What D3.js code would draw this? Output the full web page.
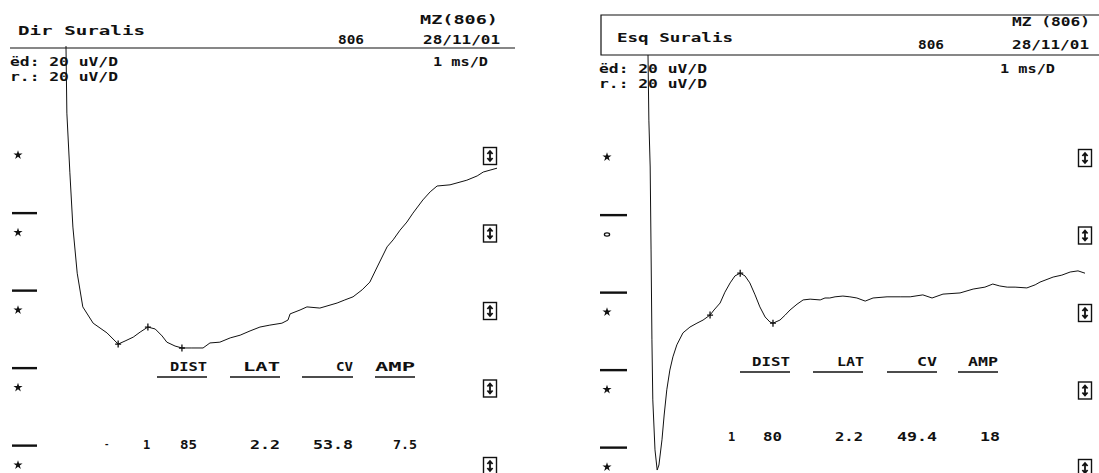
<!DOCTYPE html>
<html>
<head>
<meta charset="utf-8">
<script src="https://cdn.jsdelivr.net/npm/d3@7"></script>
<style>
  html, body { margin: 0; padding: 0; background: #fff; }
  svg { display: block; }
  text { font-family: "DejaVu Sans Mono", monospace; font-weight: bold; fill: #111; }
</style>
</head>
<body>
<svg id="chart" width="1099" height="473"></svg>
<script>
// ---------------- DATA ----------------
// Left trace (Dir Suralis): time in ms, amplitude in uV (20 uV/D, 1 ms/D)
const leftMs = [0, 0.02, 0.09, 0.16, 0.26, 0.39, 0.63, 0.95, 1.21, 1.37, 1.56, 1.72, 1.90, 2.07, 2.23, 2.34, 2.53, 2.69, 2.92, 3.18, 3.34, 3.57, 3.81, 4.04, 4.27, 4.50, 4.73, 5.01, 5.15, 5.20, 5.43, 5.59, 5.89, 6.29, 6.47, 6.66, 6.87, 7.05, 7.22, 7.45, 7.59, 7.75, 7.91, 8.05, 8.28, 8.45, 8.61, 8.91, 9.30, 9.54, 9.68, 9.84, 10.0];
const leftUv = [67.6, 50.8, 35.4, 21.4, 9.5, 0.8, -3.4, -5.9, -8.8, -8.0, -7.0, -5.7, -4.4, -4.9, -6.7, -8.3, -9.3, -9.8, -9.8, -9.8, -8.5, -8.3, -7.2, -6.5, -5.4, -4.4, -3.9, -3.4, -2.6, -1.0, 0, 0.8, 0.5, 1.8, 2.6, 3.4, 5.2, 7.2, 11.1, 16.3, 18.1, 20.6, 22.7, 25.0, 28.4, 30.5, 32.0, 32.3, 33.5, 34.6, 35.6, 36.1, 36.6];
const leftCursorMs = [1.21, 1.90, 2.69];
const leftCursorUv = [-8.8, -4.4, -9.8];

// Right trace (Esq Suralis)
const rightMs = [0, 0.02, 0.05, 0.07, 0.09, 0.11, 0.16, 0.21, 0.25, 0.32, 0.37, 0.43, 0.50, 0.57, 0.66, 0.80, 0.96, 1.12, 1.26, 1.42, 1.51, 1.65, 1.76, 1.88, 1.99, 2.11, 2.22, 2.33, 2.45, 2.56, 2.68, 2.79, 2.86, 3.02, 3.14, 3.25, 3.41, 3.55, 3.71, 3.94, 4.05, 4.16, 4.28, 4.46, 4.62, 4.78, 4.97, 5.15, 5.47, 5.77, 6.00, 6.29, 6.50, 6.75, 7.14, 7.44, 7.71, 7.89, 8.05, 8.22, 8.40, 8.67, 8.86, 8.97, 9.27, 9.47, 9.66, 9.84, 10.0];
const rightUv = [65.8, 49.0, 36.9, 15.5, -7.7, -23.2, -36.1, -41.3, -40.0, -33.5, -27.1, -20.6, -15.5, -12.1, -9.0, -5.9, -4.4, -3.4, -2.6, -1.3, 0, 1.8, 4.6, 7.0, 8.8, 9.5, 8.8, 7.0, 3.9, 0.8, -1.8, -3.1, -3.4, -2.6, -1.3, 0, 1.5, 2.6, 2.8, 2.6, 3.1, 3.1, 3.4, 3.6, 3.4, 3.1, 2.3, 3.1, 3.4, 3.4, 3.4, 3.9, 3.1, 4.1, 4.4, 5.4, 5.9, 6.7, 6.2, 5.9, 5.9, 5.7, 6.5, 7.2, 8.5, 9.0, 9.8, 10.1, 9.5];
const rightCursorMs = [1.42, 2.11, 2.86];
const rightCursorUv = [-1.3, 9.5, -3.4];

// Texts
const leftTitle = "Dir Suralis";
const rightTitle = "Esq Suralis";
const leftOp = "MZ(806)";
const rightOp = "MZ (806)";
const patientId = "806";
const dateLabel = "28/11/01";
const gainLines = ["ëd: 20 uV/D", "r.: 20 uV/D"];
const sweepLabel = "1 ms/D";
const tableHeaders = ["DIST", "LAT", "CV", "AMP"];
const leftValues = ["85", "2.2", "53.8", "7.5"];
const rightValues = ["80", "2.2", "49.4", "18"];
const channelLevels = [40, 20, 0, -20, -40];   // uV levels of channel markers
const dashLevels = [25, 5, -15, -35];          // uV levels of separator dashes

// ---------------- DRAW ----------------
const svg = d3.select("#chart");

function txt(g, s, x, y, opts = {}) {
  const t = g.append("text").attr("x", x).attr("y", y).text(s)
    .attr("font-size", opts.size || 12);
  if (opts.len) t.attr("textLength", opts.len).attr("lengthAdjust", "spacingAndGlyphs");
  return t;
}

function drawBoxIcon(g, cx, cy) {
  g.append("rect").attr("x", cx - 6.5).attr("y", cy - 8.5).attr("width", 13).attr("height", 17)
    .attr("fill", "none").attr("stroke", "#111").attr("stroke-width", 1.4);
  g.append("path")
    .attr("d", `M${cx},${cy-4.5} L${cx},${cy+4.5} M${cx-2.6},${cy-2} L${cx},${cy-5} L${cx+2.6},${cy-2} M${cx-2.6},${cy+2} L${cx},${cy+5} L${cx+2.6},${cy+2}`)
    .attr("fill", "none").attr("stroke", "#111").attr("stroke-width", 1.8);
}

function panel(cfg) {
  const g = svg.append("g");
  const x = d3.scaleLinear().domain([0, 10]).range([cfg.x0, cfg.x1]);
  const y = d3.scaleLinear().domain([40, -40]).range([cfg.yTop, cfg.yBot]);

  // header
  if (cfg.box) {
    g.append("path").attr("d", `M1099,${cfg.boxTop} L${cfg.boxLeft},${cfg.boxTop} L${cfg.boxLeft},${cfg.headerY} L1099,${cfg.headerY}`)
      .attr("fill", "none").attr("stroke", "#111").attr("stroke-width", 1.2);
  } else {
    g.append("line").attr("x1", cfg.lineX0).attr("x2", cfg.lineX1)
      .attr("y1", cfg.headerY).attr("y2", cfg.headerY)
      .attr("stroke", "#111").attr("stroke-width", 1.2);
  }
  txt(g, cfg.title, cfg.titleX, cfg.titleY, { len: cfg.titleLen, size: 12 });
  txt(g, cfg.op, cfg.opX, cfg.opY, { len: 78 });
  txt(g, patientId, cfg.idX, cfg.dateY, { len: 26 });
  txt(g, dateLabel, cfg.dateX, cfg.dateY, { len: 77 });
  txt(g, gainLines[0], cfg.gainX, cfg.gainY, { len: 108 });
  txt(g, gainLines[1], cfg.gainX, cfg.gainY + 15, { len: 108 });
  txt(g, sweepLabel, cfg.sweepX, cfg.gainY, { len: 55 });

  // channel markers
  channelLevels.forEach((v, i) => {
    const cy = y(v) + cfg.markOff;
    if (cfg.circleIdx === i) {
      g.append("ellipse").attr("cx", cfg.starX).attr("cy", cy).attr("rx", 2.6).attr("ry", 1.6)
        .attr("fill", "none").attr("stroke", "#111").attr("stroke-width", 1.3);
    } else {
      g.append("path").attr("transform", `translate(${cfg.starX},${cy})`)
        .attr("d", d3.symbol(d3.symbolStar).size(26)()).attr("fill", "#111");
    }
    drawBoxIcon(g, cfg.boxX, cy + 1);
  });
  dashLevels.forEach(v => {
    g.append("line").attr("x1", cfg.dashX0).attr("x2", cfg.dashX1)
      .attr("y1", y(v) + cfg.dashOff).attr("y2", y(v) + cfg.dashOff)
      .attr("stroke", "#111").attr("stroke-width", 2.4);
  });

  // trace
  const line = d3.line().x(d => x(d[0])).y(d => y(d[1])).curve(d3.curveLinear);
  const pts = cfg.ms.map((m, i) => [m, cfg.uv[i]]);
  g.append("path").attr("d", line([[0, cfg.traceTopUv], ...pts]))
    .attr("fill", "none").attr("stroke", "#111").attr("stroke-width", 1.0);

  // cursors
  cfg.cms.forEach((m, i) => {
    const cx = x(m), cy = y(cfg.cuv[i]);
    g.append("path").attr("d", `M${cx-3},${cy} L${cx+3},${cy} M${cx},${cy-3.5} L${cx},${cy+3.5}`)
      .attr("stroke", "#111").attr("stroke-width", 1.3);
  });

  // table
  tableHeaders.forEach((h, i) => {
    const c = cfg.cols[i];
    txt(g, h, c.hx, cfg.headY, { len: c.hl });
    g.append("line").attr("x1", c.ux0).attr("x2", c.ux1)
      .attr("y1", cfg.headY + 6).attr("y2", cfg.headY + 6)
      .attr("stroke", "#111").attr("stroke-width", 1.3);
    txt(g, cfg.values[i], c.vx, cfg.valY, { len: c.vl });
  });
  txt(g, "1", cfg.oneX, cfg.valY);
  if (cfg.dashMark) txt(g, "-", cfg.dashMark, cfg.valY - 2, { size: 9 });
}

panel({
  x0: 66, x1: 497, yTop: 155, yBot: 465,
  ms: leftMs, uv: leftUv, traceTopUv: (310 - 48) / 3.875 + 0.5,
  cms: leftCursorMs, cuv: leftCursorUv,
  box: false, headerY: 48, lineX0: 10, lineX1: 515,
  title: leftTitle, titleX: 18, titleY: 35, titleLen: 127,
  op: leftOp, opX: 420, opY: 24,
  idX: 338, dateX: 423, dateY: 44,
  gainX: 10, gainY: 66, sweepX: 433,
  starX: 18, markOff: 0, circleIdx: -1, boxX: 490,
  dashX0: 12, dashX1: 37, dashOff: 0,
  headY: 371, valY: 449, oneX: 143, dashMark: 104,
  values: leftValues,
  cols: [
    { hx: 170, hl: 37, ux0: 157, ux1: 207, vx: 180, vl: 17 },
    { hx: 243, hl: 37, ux0: 230, ux1: 280, vx: 250, vl: 30 },
    { hx: 336, hl: 17, ux0: 302, ux1: 353, vx: 313, vl: 40 },
    { hx: 375, hl: 40, ux0: 375, ux1: 415, vx: 393, vl: 24 }
  ]
});

panel({
  x0: 648, x1: 1085, yTop: 155, yBot: 465,
  ms: rightMs, uv: rightUv, traceTopUv: (310 - 55) / 3.875,
  cms: rightCursorMs, cuv: rightCursorUv,
  box: true, boxTop: 15, boxLeft: 601, headerY: 55,
  title: rightTitle, titleX: 617, titleY: 42, titleLen: 116,
  op: rightOp, opX: 1012, opY: 26,
  idX: 918, dateX: 1012, dateY: 49,
  gainX: 599, gainY: 73, sweepX: 1000,
  starX: 607, markOff: 2, circleIdx: 1, boxX: 1085,
  dashX0: 600, dashX1: 627, dashOff: 2,
  headY: 366, valY: 441, oneX: 728, dashMark: null,
  values: rightValues,
  cols: [
    { hx: 752, hl: 38, ux0: 740, ux1: 790, vx: 763, vl: 19 },
    { hx: 837, hl: 27, ux0: 813, ux1: 863, vx: 835, vl: 28 },
    { hx: 917, hl: 20, ux0: 887, ux1: 937, vx: 897, vl: 40 },
    { hx: 968, hl: 30, ux0: 958, ux1: 998, vx: 980, vl: 20 }
  ]
});
</script>
</body>
</html>
